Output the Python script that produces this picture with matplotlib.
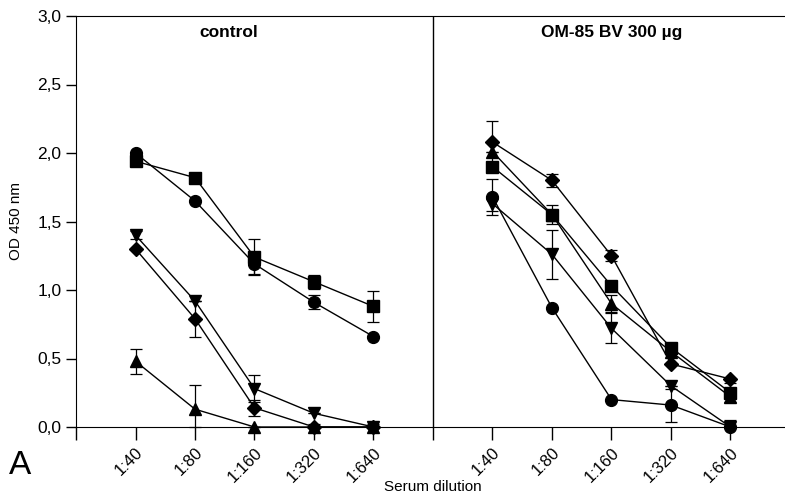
import matplotlib
import matplotlib.pyplot as plt
matplotlib.use('Agg')

plt.rcParams['font.family'] = ['Liberation Sans', 'DejaVu Sans']

dilutions = ["1:40", "1:80", "1:160", "1:320", "1:640"]
x_ctrl = [1, 2, 3, 4, 5]
x_om = [7, 8, 9, 10, 11]

# control group
ctrl_circle = [2.00, 1.65, 1.19, 0.91, 0.66]
ctrl_circle_err = [0.0, 0.0, 0.07, 0.05, 0.0]
ctrl_square = [1.94, 1.82, 1.24, 1.06, 0.88]
ctrl_square_err = [0.0, 0.0, 0.13, 0.05, 0.11]
ctrl_down = [1.40, 0.92, 0.28, 0.10, 0.0]
ctrl_down_err = [0.03, 0.0, 0.10, 0.0, 0.0]
ctrl_diamond = [1.30, 0.79, 0.14, 0.0, 0.0]
ctrl_diamond_err = [0.0, 0.13, 0.06, 0.02, 0.02]
ctrl_up = [0.48, 0.13, 0.0, 0.0, 0.0]
ctrl_up_err = [0.09, 0.18, 0.0, 0.0, 0.0]

# OM-85 BV group
om_diamond = [2.08, 1.80, 1.25, 0.46, 0.35]
om_diamond_err = [0.15, 0.05, 0.04, 0.0, 0.0]
om_square = [1.90, 1.55, 1.03, 0.58, 0.25]
om_square_err = [0.0, 0.07, 0.0, 0.03, 0.07]
om_up = [2.01, 1.55, 0.90, 0.55, 0.22]
om_up_err = [0.0, 0.0, 0.06, 0.0, 0.0]
om_down = [1.63, 1.26, 0.72, 0.30, 0.0]
om_down_err = [0.05, 0.18, 0.11, 0.0, 0.0]
om_circle = [1.68, 0.87, 0.20, 0.16, 0.0]
om_circle_err = [0.13, 0.0, 0.0, 0.12, 0.05]

fig = plt.figure(figsize=(7.85, 4.99), dpi=100)
ax = fig.add_axes([76 / 785, 1 - 427 / 499, 1 - 76 / 785, 411 / 499])

series = [
    (x_ctrl, ctrl_circle, ctrl_circle_err, 'o'),
    (x_ctrl, ctrl_square, ctrl_square_err, 's'),
    (x_ctrl, ctrl_down, ctrl_down_err, 'v'),
    (x_ctrl, ctrl_diamond, ctrl_diamond_err, 'D'),
    (x_ctrl, ctrl_up, ctrl_up_err, '^'),
    (x_om, om_diamond, om_diamond_err, 'D'),
    (x_om, om_square, om_square_err, 's'),
    (x_om, om_up, om_up_err, '^'),
    (x_om, om_down, om_down_err, 'v'),
    (x_om, om_circle, om_circle_err, 'o'),
]
for xs, ys, errs, m in series:
    ms = 7 if m == 'D' else 8.5
    # error bars stop at the zero line
    lower = [min(e, y) for e, y in zip(errs, ys)]
    ax.errorbar(xs, ys, yerr=[lower, errs], color='black', marker=m, markersize=ms,
                linewidth=1.0, elinewidth=0.9, capsize=4, capthick=0.9,
                clip_on=False, zorder=3)

ax.axvline(6, color='black', linewidth=1.0)

ax.set_xlim(0, 709 / 59.5)
ax.set_ylim(0, 3.0)
ax.set_xticks(list(range(0, 12)))
ax.set_xticklabels([""] + dilutions + [""] + dilutions, rotation=45,
                   ha='right', va='top', rotation_mode='anchor', fontsize=12)
ax.set_yticks([0, 0.5, 1.0, 1.5, 2.0, 2.5, 3.0])
ax.set_yticklabels(["0,0", "0,5", "1,0", "1,5", "2,0", "2,5", "3,0"], fontsize=12.5)
ax.tick_params(axis='x', direction='out', length=9, width=1.0, colors='black', pad=4)
ax.tick_params(axis='y', direction='out', length=7, width=1.0, colors='black')
ax.spines['right'].set_visible(False)

ax.text(2.57, 2.88, "control", fontsize=12.5, fontweight='bold', ha='center', va='center')
ax.text(9.0, 2.88, "OM-85 BV 300 µg", fontsize=12.5, fontweight='bold', ha='center', va='center')

ax.set_ylabel("OD 450 nm", fontsize=11, labelpad=10)
fig.text(433 / 785, 1 - 487 / 499, "Serum dilution", fontsize=11, ha='center', va='center')
fig.text(20 / 785, 1 - 466 / 499, "A", fontsize=24, ha='center', va='center')

plt.savefig("out.png", dpi=100)
plt.close()
